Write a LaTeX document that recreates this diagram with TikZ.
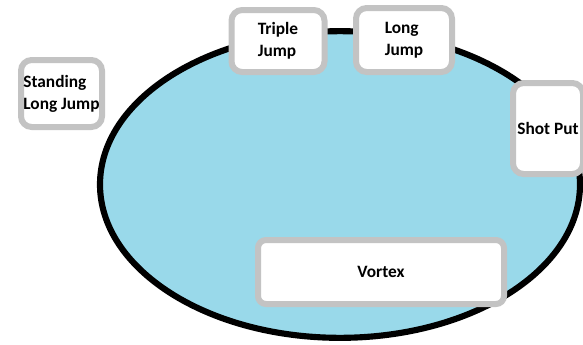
\documentclass[tikz,border=0pt]{standalone}
\usepackage{fontspec}
\setmainfont{Carlito}
\usepackage{xcolor}
\usepackage{tikz}
\usetikzlibrary{positioning}
\definecolor{trackblue}{RGB}{153,217,234}
\definecolor{boxgray}{RGB}{195,195,195}
\tikzset{
  event/.style={draw=boxgray, line width=4.5pt, fill=white, rounded corners=8pt,
    align=left, inner sep=0pt, font=\bfseries\fontsize{13}{16.5}\selectfont},
  track/.style={draw=black, line width=4.6pt, fill=trackblue}
}

\begin{document}
\begin{tikzpicture}[x=0.75pt, y=-0.75pt]
    \useasboundingbox (0,0) rectangle (583,344);

    % Track
    \draw[track] (340,184.5) ellipse [x radius=180pt, y radius=115pt];

    % Events
    \node[event, minimum width=60.75pt, minimum height=50.25pt] (standing) at (61.5,93.5) {Standing\\Long Jump};
    \node[event, minimum width=69.75pt, minimum height=46.5pt] (triple) at (278,41) {Triple\\Jump};
    \node[event, minimum width=72pt, minimum height=48pt] (long) at (404,40) {Long\\Jump};
    \node[event, minimum width=52.5pt, minimum height=68.25pt] (shot) at (548,128.5) {Shot Put};
    \node[event, minimum width=184.5pt, minimum height=48pt, rounded corners=6pt] (vortex) at (381,272) {Vortex};
\end{tikzpicture}
\end{document}
